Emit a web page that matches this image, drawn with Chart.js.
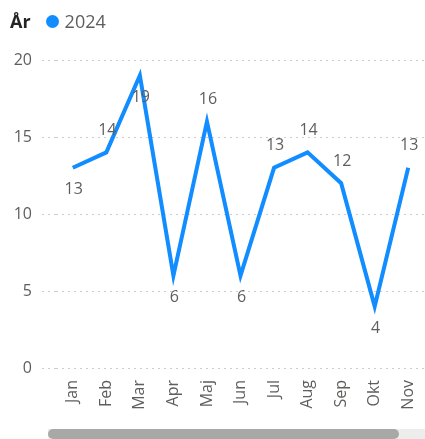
<!DOCTYPE html>
<html>
<head>
<meta charset="utf-8">
<script src="https://cdn.jsdelivr.net/npm/chart.js@4"></script>
<style>
  body { margin: 0; background: #fff; font-family: "Open Sans", sans-serif; }
  #wrap { position: relative; width: 425px; height: 439px; overflow: hidden; }
  #legend { position: absolute; left: 10px; top: 9px; font-size: 18px; display: flex; align-items: center; color: #605E5C; }
  #legend b { color: #252423; margin-right: 15px; }
  #legend .dot { width: 13px; height: 13px; border-radius: 50%; background: #118DFF; margin-right: 6px; }
  #track { position: absolute; left: 48px; top: 429px; width: 377px; height: 10px; background: #EDEDED; }
  #thumb { position: absolute; left: 48px; top: 429px; width: 351px; height: 10px; border-radius: 5px; background: #A8A8A8; }
</style>
</head>
<body>
<div id="wrap">
  <canvas id="chart" width="425" height="439"></canvas>
  <div id="legend"><b>År</b><span class="dot"></span><span>2024</span></div>
  <div id="track"></div>
  <div id="thumb"></div>
</div>
<script>
const months = ["Jan", "Feb", "Mar", "Apr", "Maj", "Jun", "Jul", "Aug", "Sep", "Okt", "Nov"];
const values2024 = [13, 14, 19, 6, 16, 6, 13, 14, 12, 4, 13];
const yTicks = [0, 5, 10, 15, 20];
const labelSide = ["below", "above", "below", "below", "above", "below", "above", "above", "above", "below", "above"];

const valueLabels = {
  id: "valueLabels",
  afterDatasetsDraw(chart) {
    const ctx = chart.ctx;
    const meta = chart.getDatasetMeta(0);
    ctx.save();
    ctx.font = '16px "Open Sans"';
    ctx.fillStyle = "#605E5C";
    ctx.textAlign = "center";
    ctx.textBaseline = "middle";
    meta.data.forEach((pt, i) => {
      const dy = labelSide[i] === "above" ? -22 : 22;
      ctx.fillText(String(values2024[i]), pt.x + 1, pt.y + dy);
    });
    ctx.restore();
  }
};

new Chart(document.getElementById("chart"), {
  type: "line",
  data: {
    labels: months,
    datasets: [{
      label: "2024",
      data: values2024,
      borderColor: "#118DFF",
      borderWidth: 4,
      pointRadius: 0,
      tension: 0,
      fill: false
    }]
  },
  options: {
    responsive: false,
    animation: false,
    layout: { padding: { top: 60, bottom: 23, left: 0, right: 0 } },
    plugins: { legend: { display: false }, tooltip: { enabled: false } },
    scales: {
      x: {
        offset: true,
        grid: { display: false },
        border: { display: false },
        afterFit: (s) => { s.height = 48; s.paddingLeft = 0; s.paddingRight = 0; },
        ticks: {
          minRotation: 90,
          maxRotation: 90,
          padding: 4,
          color: "#605E5C",
          font: { family: "Open Sans", size: 16 }
        }
      },
      y: {
        min: 0,
        max: 20,
        afterFit: (s) => { s.width = 56; },
        afterBuildTicks: (s) => { s.ticks = yTicks.map(v => ({ value: v })); },
        border: { display: false, dash: [2, 4] },
        grid: {
          color: "#CFCDCB",
          lineWidth: 1,
          tickLength: 14,
          tickBorderDash: [2, 4],
          tickColor: "#CFCDCB"
        },
        ticks: {
          padding: 10,
          color: "#605E5C",
          font: { family: "Open Sans", size: 16 }
        }
      }
    }
  },
  plugins: [valueLabels]
});
</script>
</body>
</html>
